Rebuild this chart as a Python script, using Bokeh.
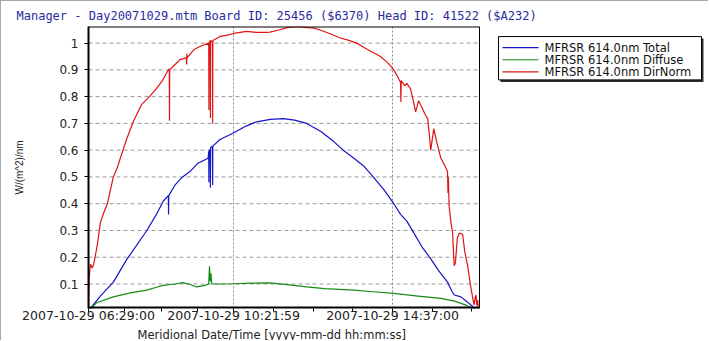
from bokeh.plotting import figure
from bokeh.models import FixedTicker, Range1d, Span, Title
from bokeh.core.properties import value
from bokeh.embed import file_html
from bokeh.resources import INLINE

title_text = "Manager - Day20071029.mtm Board ID: 25456 ($6370) Head ID: 41522 ($A232)"
x_label = "Meridional Date/Time [yyyy-mm-dd hh:mm:ss]"
y_label = "W/(m^2)/nm"

x_tick_hours = [6.48333, 10.36639, 14.61667]
x_tick_labels = ["2007-10-29 06:29:00", "2007-10-29 10:21:59", "2007-10-29 14:37:00"]
x_minor_hours = [7.454, 8.425, 9.395, 11.429, 12.492, 13.554, 15.679, 16.741]
y_tick_vals = [0.1, 0.2, 0.3, 0.4, 0.5, 0.6, 0.7, 0.8, 0.9, 1.0]
y_tick_labels = ["0.1", "0.2", "0.3", "0.4", "0.5", "0.6", "0.7", "0.8", "0.9", "1"]

series_names = ["MFRSR 614.0nm Total", "MFRSR 614.0nm Diffuse", "MFRSR 614.0nm DirNorm"]
series_colors = ["#1414c8", "#158a15", "#e01414"]

total_t = [6.483, 6.80, 7.148, 7.50, 8.044, 8.30, 8.486, 8.62, 8.625, 8.63,
           8.80, 9.00, 9.196, 9.40, 9.683, 9.70, 9.705, 9.71, 9.74, 9.745,
           9.75, 9.80, 9.805, 9.81, 10.00, 10.347, 10.70, 10.977, 11.35, 11.693,
           12.00, 12.322, 12.70, 13.038, 13.30, 13.576, 13.845, 14.10, 14.40, 14.652,
           14.832, 15.00, 15.19, 15.40, 15.64, 15.85, 16.089, 16.20, 16.267, 16.447,
           16.60, 16.762, 16.90]
total_v = [0.0, 0.055, 0.107, 0.19, 0.30, 0.36, 0.41, 0.43, 0.36, 0.43,
           0.47, 0.50, 0.52, 0.55, 0.57, 0.595, 0.48, 0.60, 0.60, 0.46,
           0.61, 0.615, 0.47, 0.615, 0.64, 0.663, 0.69, 0.706, 0.715, 0.718,
           0.712, 0.70, 0.67, 0.633, 0.60, 0.571, 0.541, 0.50, 0.45, 0.40,
           0.36, 0.335, 0.29, 0.24, 0.194, 0.15, 0.107, 0.075, 0.059, 0.052,
           0.035, 0.016, 0.0]

diffuse_t = [6.483, 6.70, 7.148, 7.60, 8.044, 8.30, 8.486, 8.80, 9.009, 9.20,
             9.374, 9.60, 9.70, 9.72, 9.74, 9.76, 9.78, 10.00, 10.347, 10.80,
             11.335, 11.80, 12.322, 12.80, 13.576, 14.10, 14.652, 15.30, 15.909, 16.30,
             16.60, 16.90]
diffuse_v = [0.0, 0.03, 0.052, 0.067, 0.077, 0.088, 0.095, 0.10, 0.105, 0.098,
             0.089, 0.095, 0.10, 0.166, 0.11, 0.14, 0.10, 0.10, 0.101, 0.103,
             0.104, 0.098, 0.089, 0.083, 0.077, 0.071, 0.065, 0.055, 0.046, 0.035,
             0.02, 0.0]

dirnorm_t = [6.483, 6.50, 6.536, 6.58, 6.616, 6.66, 6.723, 6.802, 6.90, 6.989,
             7.148, 7.255, 7.334, 7.50, 7.68, 7.90, 8.132, 8.30, 8.451, 8.60,
             8.645, 8.650, 8.655, 8.80, 8.93, 9.10, 9.108, 9.115, 9.12, 9.30,
             9.50, 9.70, 9.705, 9.71, 9.74, 9.745, 9.75, 9.80, 9.805, 9.81,
             10.00, 10.20, 10.366, 10.716, 10.977, 11.20, 11.335, 11.60, 11.80, 12.061,
             12.322, 12.492, 12.70, 12.949, 13.20, 13.45, 13.676, 13.90, 14.10, 14.294,
             14.50, 14.652, 14.75, 14.832, 14.84, 14.85, 14.95, 15.00, 15.101, 15.15,
             15.236, 15.316, 15.40, 15.50, 15.559, 15.60, 15.64, 15.72, 15.80, 15.909,
             15.998, 16.089, 16.10, 16.11, 16.132, 16.18, 16.224, 16.267, 16.30, 16.35,
             16.402, 16.493, 16.55, 16.627, 16.716, 16.797, 16.83, 16.851, 16.87, 16.896,
             16.91, 16.931]
dirnorm_v = [0.0, 0.12, 0.175, 0.16, 0.17, 0.20, 0.25, 0.33, 0.37, 0.40,
             0.50, 0.535, 0.57, 0.64, 0.706, 0.77, 0.803, 0.83, 0.858, 0.895,
             0.904, 0.71, 0.90, 0.92, 0.938, 0.945, 0.92, 0.96, 0.945, 0.975,
             0.99, 1.00, 0.75, 1.00, 1.01, 0.72, 1.01, 1.005, 0.70, 1.01,
             1.025, 1.03, 1.036, 1.044, 1.04, 1.04, 1.041, 1.05, 1.058, 1.062,
             1.058, 1.057, 1.048, 1.035, 1.02, 1.01, 0.999, 0.98, 0.965, 0.95,
             0.925, 0.90, 0.875, 0.853, 0.78, 0.86, 0.84, 0.85, 0.828, 0.80,
             0.743, 0.785, 0.76, 0.73, 0.718, 0.66, 0.60, 0.68, 0.63, 0.57,
             0.547, 0.52, 0.44, 0.50, 0.39, 0.33, 0.29, 0.168, 0.18, 0.27,
             0.29, 0.286, 0.22, 0.168, 0.084, 0.022, 0.05, 0.059, 0.02, 0.04,
             0.01, 0.005]

FONT = "DejaVu Sans"
TEXT_COLOR = "#222222"

# plot-area extent in data units (the legend sits to the right of it)
X0, X_END = 6.48333, 16.944
Y0, Y1 = 0.0085, 1.062
W, H = 708, 340
LEFT, RIGHT = 87, 2
AREA_PX = 391            # pixel width of the plotted time span
FRAME_L, FRAME_T, FRAME_B = 88, 26, 306   # expected frame edges on the page
x_full_end = X0 + (W - LEFT - RIGHT) * (X_END - X0) / AREA_PX


def px_x(px):
    return X0 + (px - FRAME_L) * (X_END - X0) / AREA_PX


def px_y(py):
    return Y0 + (FRAME_B - py) * (Y1 - Y0) / (FRAME_B - FRAME_T)


p = figure(width=W, height=H, output_backend="svg", toolbar_location=None,
           x_range=Range1d(X0, x_full_end), y_range=Range1d(Y0, Y1),
           min_border_left=LEFT, min_border_right=RIGHT, min_border_top=25, min_border_bottom=27)
p.styles = {"border-left": "1px solid #a8a8a8", "border-top": "1px solid #a8a8a8"}
p.outline_line_color = None

p.title.text = title_text
p.title.text_font = "DejaVu Sans Mono"
p.title.text_font_size = "12px"
p.title.text_font_style = "normal"
p.title.text_color = "#2b2ba0"
p.title.align = "left"
p.title.offset = -72
p.title.standoff = 7

# horizontal dashed grid, limited to the plot area
n = len(y_tick_vals)
p.segment(x0=[X0] * n, y0=y_tick_vals, x1=[X_END] * n, y1=y_tick_vals,
          line_color="#9a9a9a", line_dash="4 3", line_width=1)
p.ygrid.visible = False
p.xgrid.grid_line_color = "#8a8a8a"
p.xgrid.grid_line_dash = "2 2"

p.line(total_t, total_v, line_color=series_colors[0], line_width=1.2)
p.line(diffuse_t, diffuse_v, line_color=series_colors[1], line_width=1.2)
p.line(dirnorm_t, dirnorm_v, line_color=series_colors[2], line_width=1.2)

# plot-area border: top (thin), bottom (thick axis line), right (thin)
p.segment(x0=[X0], y0=[Y1], x1=[X_END], y1=[Y1], line_color="black", line_width=2)
p.segment(x0=[X0], y0=[Y0], x1=[X_END], y1=[Y0], line_color="black", line_width=4)
p.add_layout(Span(location=X_END, dimension="height", line_color="black", line_width=1))

# legend box (with drop shadow), sample lines and labels
LEG_L, LEG_R, LEG_T, LEG_B = 498, 701, 36, 79
row_py = [47, 59, 71]
p.quad(left=[px_x(LEG_L + 2)], right=[px_x(LEG_R + 2)], top=[px_y(LEG_T + 2)],
       bottom=[px_y(LEG_B + 2)], fill_color="#303030", line_color=None)
p.quad(left=[px_x(LEG_L)], right=[px_x(LEG_R)], top=[px_y(LEG_T)], bottom=[px_y(LEG_B)],
       fill_color="white", line_color="black", line_width=1)
p.segment(x0=[px_x(502)] * 3, x1=[px_x(538)] * 3,
          y0=[px_y(v) for v in row_py], y1=[px_y(v) for v in row_py],
          line_color=series_colors, line_width=1.2)
p.text(x=[px_x(544)] * 3, y=[px_y(v) for v in row_py], text=series_names,
       text_font=value(FONT), text_font_size=value("11.5px"), text_baseline="middle",
       text_align="left", text_color="#111111")

xa = p.xaxis[0]
xa.ticker = FixedTicker(ticks=x_tick_hours, minor_ticks=x_minor_hours)
xa.major_label_overrides = dict(zip(x_tick_hours, x_tick_labels))
xa.axis_line_color = None
xa.major_tick_out = 4
xa.major_tick_in = 0
xa.minor_tick_out = 3
xa.minor_tick_in = 0
xa.major_label_standoff = -5
xa.major_label_text_font = FONT
xa.major_label_text_font_size = "12.5px"
xa.major_label_text_color = TEXT_COLOR

# x axis title, placed under the plotted time span (not the legend area)
x_title = Title(text=x_label, align="left", offset=49, standoff=0,
                text_font=FONT, text_font_size="11.5px", text_font_style="normal",
                text_color=TEXT_COLOR)
p.add_layout(x_title, "below")

ya = p.yaxis[0]
ya.ticker = FixedTicker(ticks=y_tick_vals)
ya.major_label_overrides = dict(zip(y_tick_vals, y_tick_labels))
ya.axis_label = y_label
ya.axis_line_width = 2
ya.major_tick_out = 4
ya.major_tick_in = 0
ya.major_label_standoff = 6
ya.axis_label_standoff = 31
ya.major_label_text_font = FONT
ya.major_label_text_font_size = "12px"
ya.major_label_text_color = TEXT_COLOR
ya.axis_label_text_font = "Liberation Sans"
ya.axis_label_text_font_size = "10px"
ya.axis_label_text_font_style = "normal"
ya.axis_label_text_color = TEXT_COLOR

open("out.html", "w").write(file_html(p, INLINE))
